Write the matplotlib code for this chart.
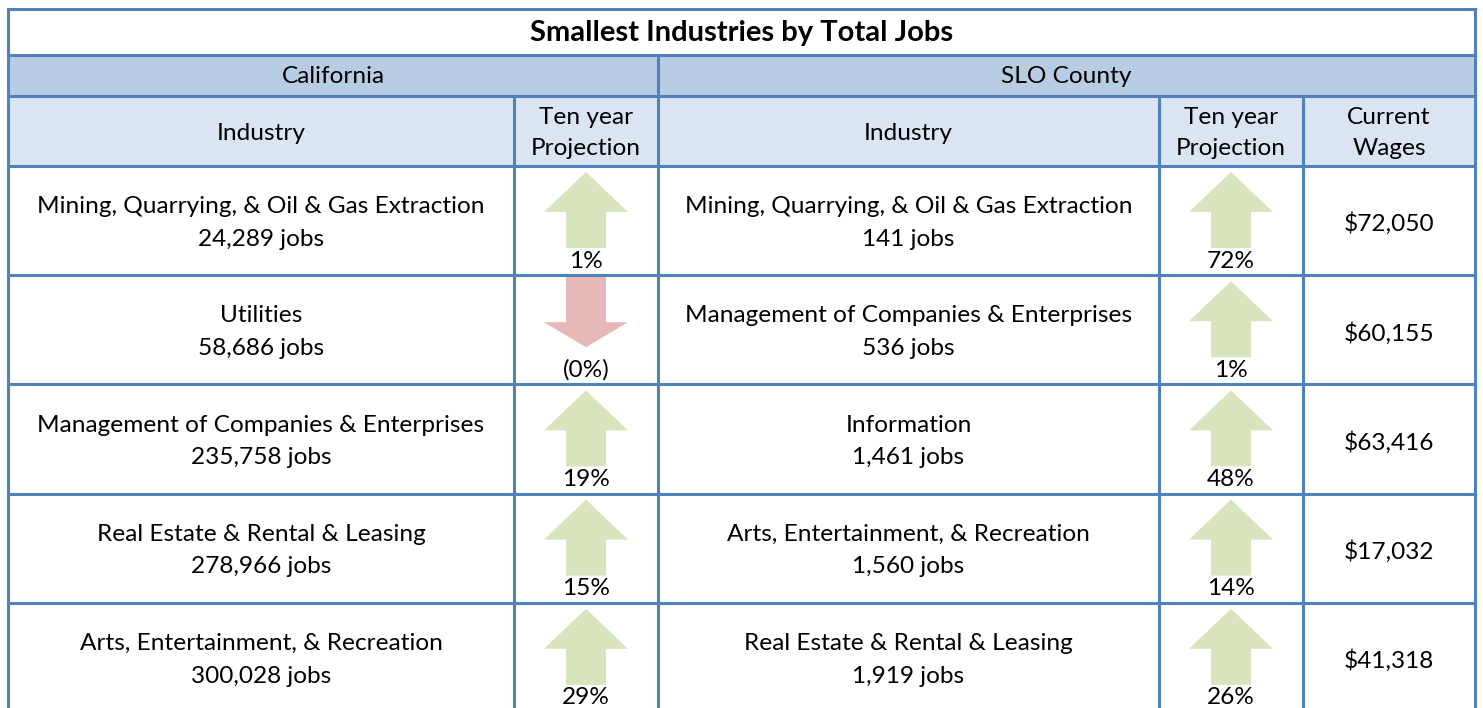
import matplotlib
matplotlib.use("Agg")
import matplotlib.pyplot as plt
from matplotlib.patches import Rectangle, Polygon

plt.rcParams['font.family'] = ['Lato', 'DejaVu Sans']

# data
title = "Smallest Industries by Total Jobs"
regions = ["California", "SLO County"]
ca_industry = ["Mining, Quarrying, & Oil & Gas Extraction", "Utilities",
               "Management of Companies & Enterprises",
               "Real Estate & Rental & Leasing",
               "Arts, Entertainment, & Recreation"]
ca_jobs = ["24,289", "58,686", "235,758", "278,966", "300,028"]
ca_proj = ["1%", "(0%)", "19%", "15%", "29%"]
ca_up = [True, False, True, True, True]

slo_industry = ["Mining, Quarrying, & Oil & Gas Extraction",
                "Management of Companies & Enterprises", "Information",
                "Arts, Entertainment, & Recreation",
                "Real Estate & Rental & Leasing"]
slo_jobs = ["141", "536", "1,461", "1,560", "1,919"]
slo_proj = ["72%", "1%", "48%", "14%", "26%"]
slo_up = [True, True, True, True, True]
slo_wages = ["$72,050", "$60,155", "$63,416", "$17,032", "$41,318"]

# layout (pixels)
W, H = 1483, 708
cols = [8, 514, 658, 1159, 1303, 1475]
y_title, y_h1, y_h2, y_data = 9, 55, 96, 166
row_h = 109.2
border = "#4f81bd"
green = "#d7e4bd"
red = "#e6b9b8"
fs = 17.6

fig = plt.figure(figsize=(W / 100, H / 100), dpi=100)
ax = fig.add_axes([0, 0, 1, 1])
ax.set_xlim(0, W)
ax.set_ylim(H, 0)
ax.axis("off")

# header backgrounds
ax.add_patch(Rectangle((cols[0], y_h1), cols[-1] - cols[0], y_h2 - y_h1, fc="#b8cce4", ec="none"))
ax.add_patch(Rectangle((cols[0], y_h2), cols[-1] - cols[0], y_data - y_h2, fc="#dbe5f1", ec="none"))

ax.text((cols[0] + cols[-1]) / 2, (y_title + y_h1) / 2 + 1, title, ha="center", va="center",
        fontsize=21, fontweight="bold")
ax.text((cols[0] + cols[2]) / 2, (y_h1 + y_h2) / 2 + 1, regions[0], ha="center", va="center", fontsize=fs)
ax.text((cols[2] + cols[-1]) / 2, (y_h1 + y_h2) / 2 + 1, regions[1], ha="center", va="center", fontsize=fs)

hdr = ["Industry", "Ten year\nProjection", "Industry", "Ten year\nProjection", "Current\nWages"]
for i, t in enumerate(hdr):
    ax.text((cols[i] + cols[i + 1]) / 2, (y_h2 + y_data) / 2 + 2, t, ha="center", va="center",
            fontsize=fs, linespacing=1.62)


def arrow(xc, ytop, up, color):
    hw, sw = 42, 20
    if up:
        pts = [(xc, ytop + 6), (xc + hw, ytop + 46), (xc + sw, ytop + 46), (xc + sw, ytop + 82),
               (xc - sw, ytop + 82), (xc - sw, ytop + 46), (xc - hw, ytop + 46)]
    else:
        pts = [(xc - sw, ytop + 1), (xc + sw, ytop + 1), (xc + sw, ytop + 47), (xc + hw, ytop + 47),
               (xc, ytop + 72), (xc - hw, ytop + 47), (xc - sw, ytop + 47)]
    ax.add_patch(Polygon(pts, closed=True, fc=color, ec="none"))


for r in range(5):
    top = y_data + r * row_h
    mid = top + 57
    ax.text((cols[0] + cols[1]) / 2, mid, ca_industry[r] + "\n" + ca_jobs[r] + " jobs",
            ha="center", va="center", fontsize=fs, linespacing=1.68)
    ax.text((cols[2] + cols[3]) / 2, mid, slo_industry[r] + "\n" + slo_jobs[r] + " jobs",
            ha="center", va="center", fontsize=fs, linespacing=1.68)
    ax.text((cols[4] + cols[5]) / 2, top + 58, slo_wages[r], ha="center", va="center", fontsize=fs)
    for c, proj, up in [(1, ca_proj, ca_up), (3, slo_proj, slo_up)]:
        xc = (cols[c] + cols[c + 1]) / 2
        arrow(xc, top, up[r], green if up[r] else red)
        ax.text(xc, top + 95, proj[r], ha="center", va="center", fontsize=fs)

# grid lines
lw = 2.2
ax.plot([cols[0], cols[-1]], [y_title, y_title], color=border, lw=lw)
for y in [y_h1, y_h2, y_data] + [y_data + k * row_h for k in range(1, 5)]:
    ax.plot([cols[0], cols[-1]], [y, y], color=border, lw=lw)
ax.plot([cols[0], cols[0]], [y_title, H], color=border, lw=lw)
ax.plot([cols[-1], cols[-1]], [y_title, H], color=border, lw=lw)
ax.plot([cols[2], cols[2]], [y_h1, H], color=border, lw=lw)
for c in [1, 3, 4]:
    ax.plot([cols[c], cols[c]], [y_h2, H], color=border, lw=lw)

fig.savefig("out.png", dpi=100)
